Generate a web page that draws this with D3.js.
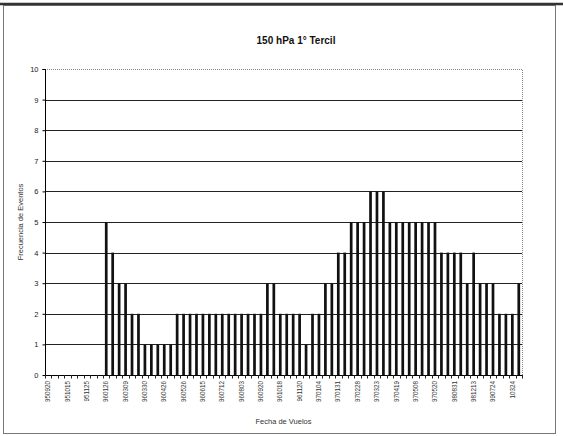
<!DOCTYPE html>
<html>
<head>
<meta charset="utf-8">
<script src="https://cdn.jsdelivr.net/npm/d3@7"></script>
<style>
  html, body { margin: 0; padding: 0; background: #fff; }
  svg { display: block; font-family: "Liberation Sans", Arial, sans-serif; }
</style>
</head>
<body>
<svg id="chart" width="563" height="436"></svg>
<script>
// ---- data ----
const chartTitle = "150 hPa 1° Tercil";
const yAxisTitle = "Frecuencia de Eventos";
const xAxisTitle = "Fecha de Vuelos";
// one label every third flight date
const tickLabels = ["950920","951015","951125","960126","960309","960330","960426","960526",
  "960615","960712","960803","960920","961018","961120","970104","970131","970228","970323",
  "970419","970508","970520","980831","981213","990724","10324"];
// event frequency per flight (74 flights)
const values = [0,0,0,0,0,0,0,0,0,
  5,4,3,3,2,2,
  1,1,1,1,1,
  2,2,2,2,2,2,2,2,2,2,2,2,2,2,
  3,3,
  2,2,2,2,
  1,
  2,2,
  3,3,
  4,4,
  5,5,5,
  6,6,6,
  5,5,5,5,5,5,5,5,
  4,4,4,4,
  3,4,3,3,3,
  2,2,2,
  3];
const yTicks = [0,1,2,3,4,5,6,7,8,9,10];
const labelEvery = 3;

// ---- layout ----
const svg = d3.select("#chart");
const L = 45, R = 522, T = 69, B = 375;

const categories = values.map((v, i) => i);
const x = d3.scaleBand().domain(categories).range([L, R]).paddingInner(0.58).paddingOuter(0.29);
const y = d3.scaleLinear().domain([0, 10]).range([B, T]);

// outer frame
svg.append("rect").attr("x", 3.5).attr("y", 5.5).attr("width", 552).attr("height", 428)
  .attr("fill", "none").attr("stroke", "#777").attr("stroke-width", 1);
svg.append("line").attr("x1", 0).attr("x2", 563).attr("y1", 4).attr("y2", 4)
  .attr("stroke", "#333").attr("stroke-width", 2.5);

// plot area border (dotted top/right)
svg.append("path")
  .attr("d", `M${L},${T + 0.5}H${R + 0.5}V${B}`)
  .attr("fill", "none").attr("stroke", "#888").attr("stroke-width", 1)
  .attr("stroke-dasharray", "1,1");

// gridlines
svg.append("g").selectAll("line")
  .data(yTicks.filter(t => t > 0 && t < 10))
  .join("line")
  .attr("x1", L).attr("x2", R)
  .attr("y1", d => Math.round(y(d)) + 0.5).attr("y2", d => Math.round(y(d)) + 0.5)
  .attr("stroke", "#222").attr("stroke-width", 1.2);

// bars
svg.append("g").selectAll("rect")
  .data(values.map((v, i) => ({ i, v })).filter(d => d.v > 0))
  .join("rect")
  .attr("x", d => x(d.i))
  .attr("width", x.bandwidth())
  .attr("y", d => y(d.v))
  .attr("height", d => y(0) - y(d.v))
  .attr("fill", "#111");

// y axis
const yAxis = d3.axisLeft(y).tickValues(yTicks).tickSize(3).tickPadding(4).tickFormat(d3.format("d"));
const gy = svg.append("g").attr("transform", `translate(${L + 0.5},0)`).call(yAxis);
gy.select(".domain").attr("stroke", "#000").attr("d", `M-3,${T + 0.5}H0V${B + 0.5}`);
gy.selectAll(".tick line").attr("stroke", "#000");
gy.selectAll(".tick text").attr("font-size", 7.5).attr("fill", "#222")
  .attr("font-family", "Liberation Sans, Arial, sans-serif");

// x axis line and category tick marks
svg.append("line").attr("x1", L).attr("x2", R).attr("y1", B + 0.5).attr("y2", B + 0.5)
  .attr("stroke", "#000").attr("stroke-width", 1.2);
const step = x.step();
svg.append("g").selectAll("line")
  .data(d3.range(categories.length + 1))
  .join("line")
  .attr("x1", i => Math.round(L + i * step) + 0.5).attr("x2", i => Math.round(L + i * step) + 0.5)
  .attr("y1", B).attr("y2", B + 3.5)
  .attr("stroke", "#222").attr("stroke-width", 1);

// x tick labels (every 3rd category)
svg.append("g").selectAll("text")
  .data(tickLabels)
  .join("text")
  .attr("transform", (d, k) => {
    const cx = x(k * labelEvery) + x.bandwidth() / 2;
    return `translate(${cx + 2.2},${B + 6}) rotate(-90)`;
  })
  .attr("text-anchor", "end")
  .attr("font-size", 6.3)
  .attr("fill", "#333")
  .text(d => d);

// titles
svg.append("text").attr("x", 296).attr("y", 44).attr("text-anchor", "middle")
  .attr("font-size", 10).attr("font-weight", "bold").attr("fill", "#111").text(chartTitle);
svg.append("text").attr("transform", `translate(23,${(T + B) / 2}) rotate(-90)`)
  .attr("text-anchor", "middle").attr("font-size", 7.5).attr("fill", "#333").text(yAxisTitle);
svg.append("text").attr("x", (L + R) / 2).attr("y", 424).attr("text-anchor", "middle")
  .attr("font-size", 7.5).attr("fill", "#333").text(xAxisTitle);
</script>
</body>
</html>
